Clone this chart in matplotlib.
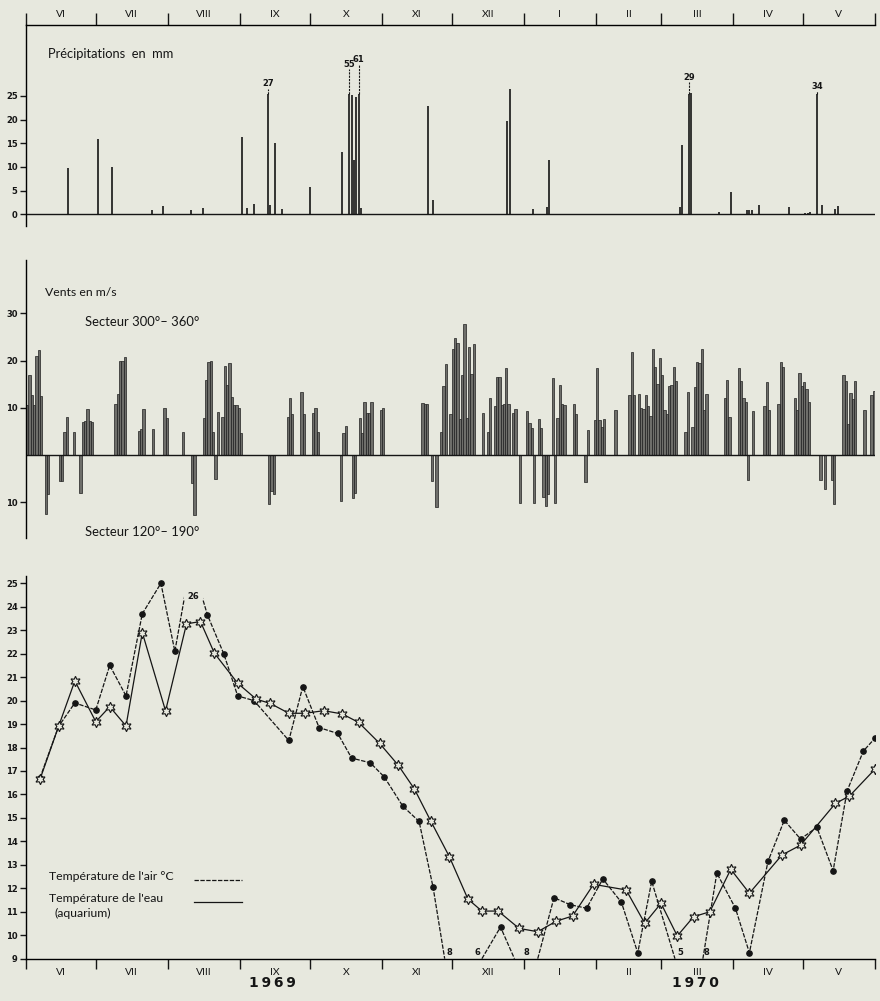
import numpy as np
import matplotlib.pyplot as plt
from matplotlib.patches import Rectangle

# Donnees climatologiques Banyuls-sur-Mer, juin 1969 - mai 1970
# abscisse : jour compte depuis le 1er juin 1969

BG = '#e7e8de'
INK = '#151515'
W, H = 880, 1001

month_names = ['VI', 'VII', 'VIII', 'IX', 'X', 'XI', 'XII', 'I', 'II', 'III', 'IV', 'V']
month_len = [30, 31, 31, 30, 31, 30, 31, 31, 28, 31, 30, 31]
year_names = ['1969', '1970']

# precipitations en mm
precip_days = [18, 31, 37, 54, 59, 71, 76, 93, 95, 98, 104, 105, 107, 110, 122,
               136, 139, 140, 141, 142, 143, 144, 173, 175, 207, 208, 218, 224,
               225, 281, 282, 285, 286, 298, 303, 310, 311, 312, 315, 328, 335,
               336, 337, 340, 342, 348, 349]
precip_mm = [9.7, 15.8, 9.9, 0.8, 1.7, 0.8, 1.3, 16.3, 1.3, 2.2, 27, 2.0, 15.0, 1.0, 5.7,
             13.2, 55, 25.3, 11.5, 24.8, 61, 1.3, 22.8, 3.0, 19.6, 26.4, 1.0, 1.5,
             11.5, 1.5, 14.6, 29, 25.6, 0.5, 4.6, 0.8, 0.8, 0.8, 2.0, 1.5, 0.3,
             0.3, 0.5, 34, 2.0, 1.0, 1.8]

# vents en m/s : positif = secteur 300-360, negatif = secteur 120-190
wind_days = [0, 1, 2, 3, 4, 5, 6, 8, 9, 14, 15, 16, 17, 20, 23,
             24, 25, 26, 27, 28, 38, 39, 40, 41, 42, 48, 49, 50, 54, 59, 60, 67,
             71, 72, 76, 77, 78, 79, 80, 81, 82,
             84, 85, 86, 87, 88, 89, 90, 91, 92,
             104, 105, 106, 112, 113, 114, 118, 119, 123, 124, 125,
             135, 136, 137, 140, 141, 143, 144, 145, 146, 147, 148, 152, 153,
             170, 171, 172, 174, 176, 178, 179, 180,
             182, 183, 184, 185, 186, 187, 188, 189, 190, 191, 192,
             196, 198, 199, 201, 202, 203, 204, 205, 206, 207, 209, 210, 212,
             215, 216, 217, 218, 220, 221, 222, 223, 224, 226, 227,
             228, 229, 230, 231, 235, 236, 240, 241, 244, 245, 246, 247, 248, 253,
             259, 260, 261,
             263, 264, 265, 266, 267, 268, 269, 270, 271, 272, 273, 274, 275, 276, 277, 278, 279,
             283, 284, 286, 287, 288, 289, 290, 291, 292,
             300, 301, 302, 306, 307, 308, 309, 310, 312, 317, 318, 319, 323, 324, 325,
             330, 331, 332, 333, 334, 335, 336, 341, 343, 346, 347,
             351, 352, 353, 354, 355, 356, 360, 363, 364]
wind_ms = [10.6, 17.0, 12.8, 10.5, 20.9, 22.3, 12.4, -12.6, -8.2, -5.6, -5.6, 4.8, 8.1, 4.9, -8.1,
           7.0, 7.1, 9.7, 7.2, 6.9, 10.7, 12.9, 19.9, 19.9, 20.8, 5.1, 5.4, 9.8, 5.4, 10.0, 7.9, 4.9,
           -6.0, -12.7, 7.8, 15.8, 19.6, 20.0, 4.9, -5.2, 9.0,
           8.1, 18.8, 14.9, 19.5, 12.2, 10.6, 10.5, 9.9, 4.6,
           -10.5, -7.6, -8.3, 8.1, 12.0, 8.6, 13.3, 8.7, 8.9, 9.9, 4.8,
           -9.8, 4.6, 6.2, -9.2, -8.0, 7.9, 4.7, 11.3, 8.8, 8.8, 11.2, 9.6, 10.0,
           10.9, 10.7, 10.7, -5.5, -11.1, 4.9, 14.7, 19.2,
           8.6, 22.5, 24.7, 23.7, 7.7, 16.9, 27.7, 7.9, 22.9, 17.1, 23.4,
           8.8, 4.9, 12.0, 10.4, 16.6, 16.6, 10.6, 10.7, 18.4, 10.7, 8.9, 9.8, -10.2,
           9.3, 6.7, 5.8, -10.2, 7.7, 5.8, -8.9, -10.9, -8.2, 16.3, -10.1,
           7.9, 14.9, 10.7, 10.5, 10.7, 8.6, -5.7, 5.2, 7.3, 18.5, 7.5, 5.9, 7.6, 9.5,
           12.7, 21.9, 12.7,
           12.9, 9.9, 9.7, 12.6, 10.3, 8.2, 22.5, 18.6, 15.0, 20.5, 16.9, 9.5, 8.6, 14.5, 14.8, 18.6, 15.7,
           4.8, 13.3, 6.0, 14.3, 19.6, 19.4, 22.5, 9.5, 12.9,
           12.0, 15.9, 8.0, 18.4, 15.7, 12.0, 11.2, -5.4, 9.4, 10.3, 15.5, 9.6, 10.8, 19.6, 18.6,
           12.0, 9.6, 17.4, 14.5, 15.5, 14.0, 11.2, -5.4, -7.3, -5.4, -10.4,
           16.9, 15.7, 6.6, 13.1, 11.9, 15.6, 9.5, 12.6, 13.6]

# temperature de l'air (releve hebdomadaire)
air_days = [6, 14, 21, 30, 36, 43, 50, 58, 64, 71, 78, 85, 91, 98, 113, 119, 126, 134,
            140, 148, 154, 162, 169, 175, 180, 196, 204, 210, 220, 227, 234, 241, 248,
            256, 263, 269, 279, 291, 297, 305, 311, 319, 326, 333, 340, 347, 353, 360, 365]
air_temp = [16.7, 18.9, 19.9, 19.6, 21.5, 20.2, 23.7, 25.0, 22.1, 26, 23.65, 22.0, 20.2,
            20.0, 18.3, 20.6, 18.85, 18.6, 17.55, 17.35, 16.75, 15.5, 14.85, 12.05, 8, 6,
            10.35, 8, 8, 11.6, 11.3, 11.15, 12.4, 11.4, 9.25, 12.3, 5, 8, 12.65, 11.15,
            9.25, 13.15, 14.9, 14.1, 14.6, 12.75, 16.15, 17.85, 18.4]

# temperature de l'eau (aquarium)
water_days = [6, 14, 21, 30, 36, 43, 50, 60, 69, 75, 81, 91, 99, 105, 113, 120, 128, 136,
              143, 152, 160, 167, 174, 182, 190, 196, 203, 212, 220, 228, 235, 244, 258,
              266, 273, 280, 287, 294, 303, 311, 325, 333, 348, 354, 365]
water_temp = [16.64, 18.9, 20.84, 19.1, 19.74, 18.92, 22.9, 19.56, 23.27, 23.37, 22.02,
              20.74, 20.06, 19.88, 19.46, 19.46, 19.57, 19.43, 19.07, 18.18, 17.25, 16.23,
              14.87, 13.35, 11.54, 11.03, 11.03, 10.29, 10.15, 10.6, 10.82, 12.17, 11.93,
              10.51, 11.36, 9.97, 10.79, 11.0, 12.81, 11.79, 13.42, 13.84, 15.62, 15.93, 17.08]

# valeurs sous l'echelle, notees au pied de la courbe
low_label_days = [182, 194, 215, 281.5, 292.5]
low_label_text = ['8', '6', '8', '5', '8']

NUM = dict(fontfamily=['Liberation Sans Narrow', 'DejaVu Sans'], fontweight='bold', fontsize=6)
TXT = ['Lato', 'DejaVu Sans']

plt.rcParams['font.family'] = TXT

fig = plt.figure(figsize=(W / 100, H / 100), dpi=100)
fig.patch.set_facecolor(BG)


def px_axes(x0, y0, x1, y1):
    """axes placee en pixels (origine en haut a gauche)"""
    ax = fig.add_axes([x0 / W, 1 - y1 / H, (x1 - x0) / W, (y1 - y0) / H])
    ax.set_facecolor('none')
    for s in ax.spines.values():
        s.set_visible(False)
    ax.set_xlim(0, sum(month_len))
    return ax


def ftext(x, y, s, **kw):
    """texte place en pixels"""
    kw.setdefault('va', 'center')
    kw.setdefault('color', INK)
    fig.text(x / W, 1 - y / H, s, **kw)


def month_axis(ax, where):
    bounds = np.concatenate([[0], np.cumsum(month_len)])
    centers = (bounds[:-1] + bounds[1:]) / 2
    if where == 'top':
        ax.xaxis.tick_top()
        ax.spines['top'].set_visible(True)
        ax.spines['top'].set_linewidth(1.0)
        length, pad = 8.5, 4
    else:
        ax.spines['bottom'].set_visible(True)
        ax.spines['bottom'].set_linewidth(1.0)
        length, pad = 7, 7
    ax.set_xticks(bounds)
    ax.set_xticklabels([])
    ax.set_xticks(centers, minor=True)
    ax.set_xticklabels(month_names, minor=True, fontsize=7.5, fontfamily=TXT)
    ax.tick_params(axis='x', which='major', length=length, width=1.0, color=INK, direction='out')
    ax.tick_params(axis='x', which='minor', length=0, pad=pad, colors=INK)


def left_axis(ax, ticks, labels):
    ax.spines['left'].set_visible(True)
    ax.spines['left'].set_linewidth(1.0)
    ax.set_yticks(ticks)
    ax.set_yticklabels(labels, **NUM)
    ax.tick_params(axis='y', length=4.5, width=1.0, pad=1.5, colors=INK)


def break_low(x, y, floor):
    """ramene les valeurs sous l'echelle sur l'axe, et coupe le trait
    entre deux valeurs successives hors echelle"""
    xs, ys = [], []
    for i in range(len(x)):
        if i > 0 and y[i] < floor and y[i - 1] < floor:
            xs.append(np.nan)
            ys.append(np.nan)
        xs.append(x[i])
        ys.append(max(y[i], floor))
    return np.array(xs), np.array(ys)


# ---------------- precipitations ----------------
ax_p = px_axes(26, 25, 875, 226)
ax_p.set_ylim(-2.5, 40)
cap = 25.5
pd_ = np.array(precip_days)
pm = np.array(precip_mm)
shown = np.where(pm > 26.5, cap, pm)
ax_p.vlines(pd_, 0, shown, color=INK, lw=1.2)
ax_p.axhline(0, color=INK, lw=1.0)
label_y = {27: 27.6, 55: 31.7, 61: 32.8, 29: 29.0, 34: 27.1}
for d, v in zip(pd_[pm > 26.5], pm[pm > 26.5]):
    ly = label_y[int(v)]
    ax_p.vlines(d, cap, ly - 1.1, color=INK, lw=0.8, linestyles=(0, (2, 1)))
    ax_p.text(d, ly, '%d' % v, ha='center', va='center', color=INK, **NUM)
left_axis(ax_p, [0, 5, 10, 15, 20, 25], ['0', '5', '10', '15', '20', '25'])
month_axis(ax_p, 'top')
ftext(48, 54, 'Précipitations  en  mm', fontsize=9.3)

# ---------------- vents ----------------
ax_w = px_axes(26, 260, 875, 538)
ax_w.set_ylim(-17.6, 41.3)
ax_w.bar(wind_days, wind_ms, width=1, align='edge', color='#6e6e6a', edgecolor='#202020', lw=0.5)
ax_w.axhline(0, color=INK, lw=1.0)
left_axis(ax_w, [-10, 10, 20, 30], ['10', '10', '20', '30'])
ax_w.set_xticks([])
ftext(45, 292.5, 'Vents en m/s', fontsize=8.8)
ftext(85, 322, 'Secteur 300°– 360°', fontsize=9.4)
ftext(85, 532, 'Secteur 120°– 190°', fontsize=9.4)

# ---------------- temperatures ----------------
ax_t = px_axes(26, 576, 875, 958.7)
top = 25.31
ax_t.set_ylim(9, top)
at = np.array(air_temp, dtype=float)
ad = np.array(air_days, dtype=float)
lx, ly_ = break_low(ad, at, 9)
ax_t.plot(lx, ly_, color=INK, lw=0.9, ls=(0, (3.5, 1.2)), zorder=3)
ok = (at >= 9) & (at <= top)
ax_t.plot(ad[ok], at[ok], 'o', color=INK, ms=3.8, zorder=4)
ax_t.plot(water_days, water_temp, color=INK, lw=0.9, marker=(6, 1, 0), ms=7.5,
          mfc=BG, mec=INK, mew=0.8, zorder=5)

# valeur au-dessus de l'echelle : courbe interrompue et valeur ecrite
for d, v in zip(ad[at > top], at[at > top]):
    ax_t.add_patch(Rectangle((d - 3, 24.3), 8, top - 24.3 + 0.2, facecolor=BG,
                             edgecolor='none', zorder=6, clip_on=False))
    ax_t.text(d + 1, 24.45, '%d' % v, ha='center', va='center', color=INK, zorder=7, **NUM)
for d, s in zip(low_label_days, low_label_text):
    ax_t.text(d, 9.08, s, ha='center', va='bottom', color=INK, **NUM)

left_axis(ax_t, list(range(9, 26)), [str(i) for i in range(9, 26)])
month_axis(ax_t, 'bottom')

# legende
tr = ax_t.transAxes
ax_t.plot([0.198, 0.254], [0.2057, 0.2057], color=INK, lw=0.9, ls=(0, (3.5, 1.2)), transform=tr)
ax_t.plot([0.198, 0.254], [0.147, 0.147], color=INK, lw=0.9, transform=tr)
ftext(49, 876, "Température de l'air °C", fontsize=8.8)
ftext(49, 898, "Température de l'eau", fontsize=8.8)
ftext(54, 913, '(aquarium)', fontsize=8.8)

for x, s in zip([272, 695], year_names):
    ftext(x, 983, '\u2009'.join(s), fontsize=10, fontweight='bold', ha='center',
          fontfamily=['DejaVu Sans'])

fig.savefig('out.png', dpi=100, facecolor=BG)
